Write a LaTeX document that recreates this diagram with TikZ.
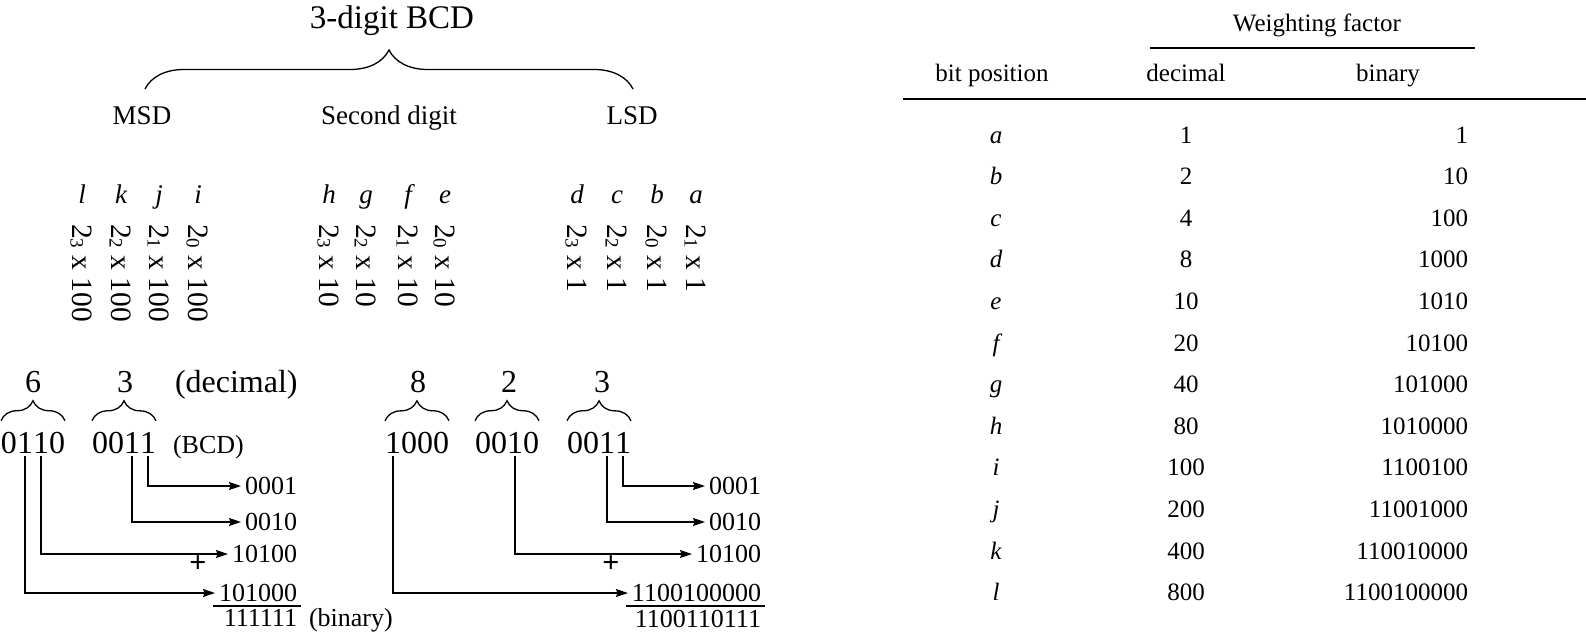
\documentclass[tikz,border=0pt]{standalone}
\usepackage{fontspec}
\setmainfont{Liberation Serif}
\usetikzlibrary{arrows.meta,decorations.pathreplacing,calc}
\newcommand{\fs}[1]{\fontsize{#1}{#1}\selectfont}
\newcommand{\ex}[1]{\raisebox{-0.05em}{\fs{19}#1}}
\begin{document}
\begin{tikzpicture}[x=1pt,y=-1pt,
  every node/.style={inner sep=0pt,outer sep=0pt},
  ttl/.style={font=\fs{33}},
  lab/.style={font=\fs{27}},
  bit/.style={font=\fs{27}\itshape},
  rot/.style={font=\fs{29.5},rotate=-90,anchor=base west},
  dec/.style={font=\fs{32}},
  dg/.style={font=\fs{32},anchor=base west},
  sm/.style={font=\fs{26}},
  tg/.style={font=\fs{26},inner sep=4pt,anchor=east},
  plus/.style={font=\fs{30}\bfseries},
  tb/.style={font=\fs{25},anchor=base},
  arr/.style={-{Stealth[length=12pt,width=8pt,inset=1.5pt]},line width=1.3pt},
  br/.style={decorate,decoration={brace,amplitude=#1},line width=1.3pt},
  rule/.style={line width=1.5pt}]
\fill[white] (0,0) rectangle (1586,635);
\useasboundingbox (0,0) rectangle (1586,635);

% ---- top brace
\node[ttl,anchor=base] (title) at (392,28) {3-digit BCD};
\draw[br=39] (145,89) -- (633,89);
\node[lab,anchor=base] (msd) at (142,124) {MSD};
\node[lab,anchor=base] (sec) at (389,124) {Second digit};
\node[lab,anchor=base] (lsd) at (632,124) {LSD};

% ---- bit letters
\foreach \n/\x in {l/82,k/121,j/159,i/198,h/329,g/366,f/408,e/445,d/577,c/617,b/657,a/696}
  \node[bit,anchor=base] (b\n) at (\x,203) {\n};

% ---- weights (rotated)
\node[rot] (wl) at (72,224) {2\ex{3} x 100};
\node[rot] (wk) at (111,224) {2\ex{2} x 100};
\node[rot] (wj) at (149,224) {2\ex{1} x 100};
\node[rot] (wi) at (188,224) {2\ex{0} x 100};
\node[rot] (wh) at (319,224) {2\ex{3} x 10};
\node[rot] (wg) at (356,224) {2\ex{2} x 10};
\node[rot] (wf) at (398,224) {2\ex{1} x 10};
\node[rot] (we) at (435,224) {2\ex{0} x 10};
\node[rot] (wd) at (567,224) {2\ex{3} x 1};
\node[rot] (wc) at (607,224) {2\ex{2} x 1};
\node[rot] (wb) at (647,224) {2\ex{0} x 1};
\node[rot] (wa) at (686,224) {2\ex{1} x 1};

% ---- decimal digits
\node[dec,anchor=base] (d6) at (33,392) {6};
\node[dec,anchor=base] (d3) at (125,392) {3};
\node[dec,anchor=base west] (dlab) at (175,392) {(decimal)};
\node[dec,anchor=base] (d8) at (418,392) {8};
\node[dec,anchor=base] (d2) at (509,392) {2};
\node[dec,anchor=base] (d3b) at (602,392) {3};

% ---- BCD digits
\node[dg] (A1) at (1,453) {0};
\node[dg] (A2) at (A1.base east) {1};
\node[dg] (A3) at (A2.base east) {1};
\node[dg] (A4) at (A3.base east) {0};
\node[dg] (B1) at (92,453) {0};
\node[dg] (B2) at (B1.base east) {0};
\node[dg] (B3) at (B2.base east) {1};
\node[dg] (B4) at (B3.base east) {1};
\node[sm,anchor=base west] (bcd) at (173,453) {(BCD)};
\node[dg] (C1) at (385,453) {1};
\node[dg] (C2) at (C1.base east) {0};
\node[dg] (C3) at (C2.base east) {0};
\node[dg] (C4) at (C3.base east) {0};
\node[dg] (D1) at (475,453) {0};
\node[dg] (D2) at (D1.base east) {0};
\node[dg] (D3) at (D2.base east) {1};
\node[dg] (D4) at (D3.base east) {0};
\node[dg] (E1) at (567,453) {0};
\node[dg] (E2) at (E1.base east) {0};
\node[dg] (E3) at (E2.base east) {1};
\node[dg] (E4) at (E3.base east) {1};

% ---- braces under decimal digits
\draw[br=20] ([yshift=11pt]A1.north west) -- ([yshift=11pt]A4.north east);
\draw[br=20] ([yshift=11pt]B1.north west) -- ([yshift=11pt]B4.north east);
\draw[br=20] ([yshift=11pt]C1.north west) -- ([yshift=11pt]C4.north east);
\draw[br=20] ([yshift=11pt]D1.north west) -- ([yshift=11pt]D4.north east);
\draw[br=20] ([yshift=11pt]E1.north west) -- ([yshift=11pt]E4.north east);

% ---- left sum
\node[tg] (T1) at (301,486) {0001};
\node[tg] (T2) at (301,522) {0010};
\node[tg] (T3) at (301,554) {10100};
\node[tg] (T4) at (301,593) {101000};
\draw[arr] ([yshift=-3pt]B4.south) |- (T1.west);
\draw[arr] ([yshift=-3pt]B3.south) |- (T2.west);
\draw[arr] ([yshift=-3pt]A3.south) |- (T3.west);
\draw[arr] ([yshift=-3pt]A2.south) |- (T4.west);
\node[plus] (p1) at (198,564) {+};
\draw[rule] ([xshift=-2pt]T4.south west) -- (T4.south east);
\node[tg,anchor=north east] (R1) at (T4.south east) {111111};
\node[sm,anchor=base west] (bin) at ([xshift=8pt]R1.base east) {(binary)};

% ---- right sum
\node[tg] (U1) at (765,486) {0001};
\node[tg] (U2) at (765,522) {0010};
\node[tg] (U3) at (765,554) {10100};
\node[tg] (U4) at (765,593) {1100100000};
\draw[arr] ([yshift=-3pt]E4.south) |- (U1.west);
\draw[arr] ([yshift=-3pt]E3.south) |- (U2.west);
\draw[arr] ([yshift=-3pt]D3.south) |- (U3.west);
\draw[arr] ([yshift=-3pt]C1.south) |- (U4.west);
\node[plus] (p2) at (611,564) {+};
\draw[rule] ([xshift=-2pt]U4.south west) -- (U4.south east);
\node[tg,anchor=north east] (R2) at (U4.south east) {1100110111};

% ---- table
\node[tb] (wfac) at (1317,31) {Weighting factor};
\draw[rule] (1150,48) -- (1475,48);
\node[tb] (hbp) at (992,81) {bit position};
\node[tb] (hdec) at (1186,81) {decimal};
\node[tb] (hbin) at (1388,81) {binary};
\draw[rule] (903,99) -- (1586,99);
\foreach \l/\d/\b [count=\i from 0] in {a/1/1,b/2/10,c/4/100,d/8/1000,e/10/1010,f/20/10100,g/40/101000,h/80/1010000,i/100/1100100,j/200/11001000,k/400/110010000,l/800/1100100000}{
  \node[tb,font=\fs{25}\itshape] (r\l) at (996,143+41.6*\i) {\l};
  \node[tb] (v\l) at (1186,143+41.6*\i) {\d};
  \node[tb,anchor=base east] (w\l) at (1468,143+41.6*\i) {\b};
}
\end{tikzpicture}
\end{document}
